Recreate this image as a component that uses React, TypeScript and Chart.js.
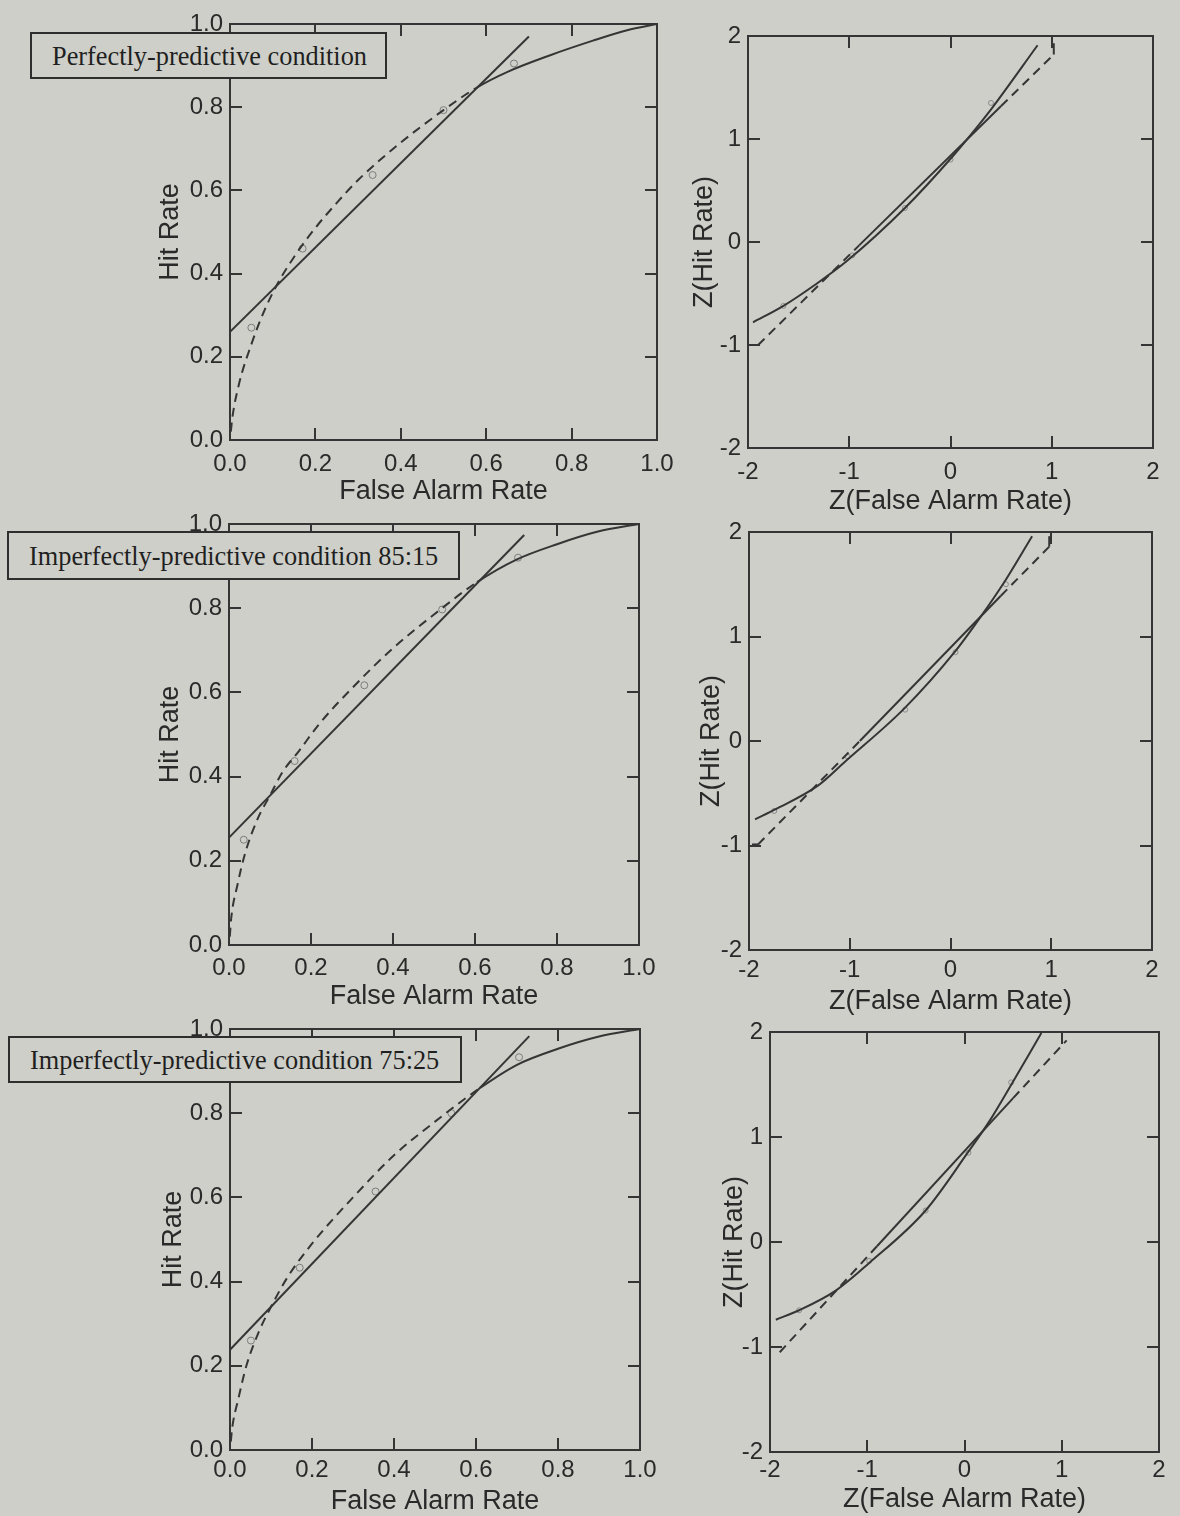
import React, { useEffect, useRef } from "react";
import { Chart, registerables } from "chart.js";

Chart.register(...registerables);

const BG = "rgb(206,207,201)";
const INK = "#353535";
const SANS = "'Liberation Sans', Arial, Helvetica, sans-serif";
const SERIF = "'Liberation Serif', 'Times New Roman', serif";

// ---------- Condition labels ----------
const conditionLabels = [
  "Perfectly-predictive condition",
  "Imperfectly-predictive condition 85:15",
  "Imperfectly-predictive condition 75:25",
];

// ---------- Axis text ----------
const rocXTitle = "False Alarm Rate";
const rocYTitle = "Hit Rate";
const zXTitle = "Z(False Alarm Rate)";
const zYTitle = "Z(Hit Rate)";

// ---------- ROC panel: perfectly-predictive ----------
const rocA_pointFA = [0.05, 0.17, 0.334, 0.5, 0.665];
const rocA_pointHit = [0.27, 0.46, 0.637, 0.793, 0.905];
const rocA_lineFA = [0, 0.7];
const rocA_lineHit = [0.26, 0.97];
const rocA_curveFA = [0.002, 0.005, 0.02, 0.05, 0.08, 0.11, 0.15, 0.2, 0.25, 0.3, 0.4, 0.5, 0.576, 0.65, 0.75, 0.85, 0.93, 1.0];
const rocA_curveHit = [0.02, 0.05, 0.13, 0.23, 0.31, 0.373, 0.44, 0.51, 0.57, 0.625, 0.715, 0.793, 0.846, 0.885, 0.925, 0.96, 0.985, 1.0];
const rocA_dashEnd = 0.576;

// ---------- ROC panel: 85:15 ----------
const rocB_pointFA = [0.036, 0.16, 0.33, 0.52, 0.705];
const rocB_pointHit = [0.25, 0.437, 0.617, 0.797, 0.92];
const rocB_lineFA = [0, 0.72];
const rocB_lineHit = [0.255, 0.974];
const rocB_curveFA = [0.002, 0.005, 0.02, 0.04, 0.07, 0.1, 0.13, 0.17, 0.22, 0.3, 0.4, 0.5, 0.605, 0.7, 0.8, 0.9, 1.0];
const rocB_curveHit = [0.02, 0.06, 0.14, 0.22, 0.3, 0.355, 0.41, 0.46, 0.525, 0.61, 0.705, 0.785, 0.862, 0.915, 0.952, 0.982, 1.0];
const rocB_dashEnd = 0.605;

// ---------- ROC panel: 75:25 ----------
const rocC_pointFA = [0.051, 0.17, 0.355, 0.54, 0.705];
const rocC_pointHit = [0.26, 0.433, 0.614, 0.8, 0.933];
const rocC_lineFA = [0, 0.73];
const rocC_lineHit = [0.238, 0.983];
const rocC_curveFA = [0.002, 0.005, 0.02, 0.04, 0.07, 0.1, 0.14, 0.2, 0.3, 0.4, 0.5, 0.61, 0.7, 0.8, 0.9, 1.0];
const rocC_curveHit = [0.02, 0.05, 0.12, 0.2, 0.28, 0.34, 0.41, 0.49, 0.6, 0.7, 0.78, 0.86, 0.915, 0.953, 0.982, 1.0];
const rocC_dashEnd = 0.61;

// ---------- z-ROC panel: perfectly-predictive ----------
const zA_pointFA = [-1.65, -0.97, -0.45, 0.0, 0.4];
const zA_pointHit = [-0.62, -0.13, 0.33, 0.8, 1.35];
const zA_curveFA = [-1.95, -1.65, -1.33, -1.03, -0.45, 0.02, 0.29, 0.41, 0.86];
const zA_curveHit = [-0.78, -0.62, -0.41, -0.19, 0.33, 0.83, 1.15, 1.3, 1.91];
const zA_lineFA = [-1.97, -1.9, -0.9, 0.5, 1.02, 1.02];
const zA_lineHit = [-1.0, -1.0, -0.03, 1.32, 1.82, 1.93];

// ---------- z-ROC panel: 85:15 ----------
const zB_pointFA = [-1.75, -1.02, -0.45, 0.05, 0.55];
const zB_pointHit = [-0.67, -0.15, 0.3, 0.85, 1.5];
const zB_curveFA = [-1.94, -1.73, -1.32, -1.05, -0.46, 0.04, 0.3, 0.52, 0.81];
const zB_curveHit = [-0.75, -0.65, -0.43, -0.2, 0.31, 0.85, 1.19, 1.5, 1.96];
const zB_lineFA = [-1.97, -1.91, -0.9, 0.5, 0.98, 0.98];
const zB_lineHit = [-0.99, -0.99, 0.0, 1.39, 1.86, 1.96];

// ---------- z-ROC panel: 75:25 ----------
const zC_pointFA = [-1.7, -0.98, -0.4, 0.04, 0.48];
const zC_pointHit = [-0.65, -0.18, 0.3, 0.85, 1.52];
const zC_curveFA = [-1.94, -1.7, -1.32, -0.98, -0.4, 0.04, 0.27, 0.47, 0.79];
const zC_curveHit = [-0.74, -0.65, -0.46, -0.2, 0.3, 0.86, 1.17, 1.48, 1.99];
const zC_lineFA = [-1.9, -0.9, 0.5, 1.05];
const zC_lineHit = [-1.05, -0.04, 1.37, 1.92];

// straight z line: dashed below / above these limits
const zDashLow = -0.9;
const zDashHigh = 0.5;

const xy = (xs: number[], ys: number[]) => xs.map((x, i) => ({ x, y: ys[i] }));

const framePlugin = {
  id: "frame",
  afterDatasetsDraw(chart: any) {
    const { ctx, chartArea: a, scales } = chart;
    const xs = scales.x;
    const ys = scales.y;
    ctx.save();
    ctx.strokeStyle = INK;
    ctx.lineWidth = 2;
    ctx.strokeRect(a.left, a.top, a.right - a.left, a.bottom - a.top);
    const L = 12;
    ctx.beginPath();
    xs.ticks.forEach((t: any) => {
      if (t.value <= xs.min + 1e-6 || t.value >= xs.max - 1e-6) return;
      const px = Math.round(xs.getPixelForValue(t.value));
      ctx.moveTo(px, a.bottom);
      ctx.lineTo(px, a.bottom - L);
      ctx.moveTo(px, a.top);
      ctx.lineTo(px, a.top + L);
    });
    ys.ticks.forEach((t: any) => {
      if (t.value <= ys.min + 1e-6 || t.value >= ys.max - 1e-6) return;
      const py = Math.round(ys.getPixelForValue(t.value));
      ctx.moveTo(a.left, py);
      ctx.lineTo(a.left + L, py);
      ctx.moveTo(a.right, py);
      ctx.lineTo(a.right - L, py);
    });
    ctx.stroke();
    ctx.restore();
  },
};

type PanelProps = {
  kind: "roc" | "z";
  l: number;
  t: number;
  r: number;
  b: number;
  W: number;
  H: number;
  xPad: number;
  datasets: any[];
};

const T_PAD = 20;
const R_PAD = 34;

function Panel({ kind, l, t, r, b, W, H, xPad, datasets }: PanelProps) {
  const ref = useRef<HTMLCanvasElement | null>(null);
  const width = W + (r - l) + R_PAD;
  const height = T_PAD + (b - t) + H;

  useEffect(() => {
    if (!ref.current) return;
    const isRoc = kind === "roc";
    const tickFont = { family: SANS, size: 24 };
    const titleFont = { family: SANS, size: 27 };
    const chart = new Chart(ref.current, {
      type: "scatter",
      data: { datasets },
      options: {
        animation: false,
        responsive: false,
        devicePixelRatio: 1,
        layout: { padding: { top: T_PAD, right: R_PAD, left: 0, bottom: 0 }, autoPadding: false },
        plugins: { legend: { display: false }, tooltip: { enabled: false } },
        scales: {
          x: {
            type: "linear",
            min: isRoc ? 0 : -2,
            max: isRoc ? 1 : 2,
            grid: { display: false, drawTicks: false },
            border: { display: false },
            ticks: {
              stepSize: isRoc ? 0.2 : 1,
              autoSkip: false,
              maxRotation: 0,
              padding: xPad,
              color: "#2a2a2a",
              font: tickFont,
              callback: (v: any) => (isRoc ? Number(v).toFixed(1) : String(Math.round(Number(v)))),
            },
            title: {
              display: true,
              text: isRoc ? rocXTitle : zXTitle,
              color: "#2a2a2a",
              font: titleFont,
              padding: 0,
            },
            afterFit: (s: any) => {
              s.height = H;
              s.paddingLeft = 0;
              s.paddingRight = 0;
            },
          },
          y: {
            type: "linear",
            min: isRoc ? 0 : -2,
            max: isRoc ? 1 : 2,
            grid: { display: false, drawTicks: false },
            border: { display: false },
            ticks: {
              stepSize: isRoc ? 0.2 : 1,
              autoSkip: false,
              padding: 7,
              color: "#2a2a2a",
              font: tickFont,
              callback: (v: any) => (isRoc ? Number(v).toFixed(1) : String(Math.round(Number(v)))),
            },
            title: {
              display: true,
              text: isRoc ? rocYTitle : zYTitle,
              color: "#2a2a2a",
              font: titleFont,
              padding: 0,
            },
            afterFit: (s: any) => {
              s.width = W;
              s.paddingTop = 0;
              s.paddingBottom = 0;
            },
          },
        },
      } as any,
      plugins: [framePlugin],
    });
    return () => chart.destroy();
  }, []);

  return (
    <canvas
      ref={ref}
      width={width}
      height={height}
      style={{ position: "absolute", left: l - W, top: t - T_PAD, width, height }}
    />
  );
}

function rocDatasets(pFA: number[], pHit: number[], lFA: number[], lHit: number[], cFA: number[], cHit: number[], dashEnd: number) {
  return [
    {
      label: "linear fit",
      data: xy(lFA, lHit),
      showLine: true,
      borderColor: INK,
      borderWidth: 2,
      pointRadius: 0,
      tension: 0,
    },
    {
      label: "curve fit",
      data: xy(cFA, cHit),
      showLine: true,
      borderColor: INK,
      borderWidth: 2,
      pointRadius: 0,
      tension: 0.4,
      cubicInterpolationMode: "monotone",
      segment: { borderDash: (c: any) => (c.p0.parsed.x < dashEnd - 1e-6 ? [9, 6] : undefined) },
    },
    {
      label: "data",
      data: xy(pFA, pHit),
      showLine: false,
      pointRadius: 3.5,
      pointBorderWidth: 1,
      pointBorderColor: "#7c7c7c",
      pointBackgroundColor: "rgba(0,0,0,0)",
    },
  ];
}

function zDatasets(pFA: number[], pHit: number[], cFA: number[], cHit: number[], lFA: number[], lHit: number[]) {
  return [
    {
      label: "curve",
      data: xy(cFA, cHit),
      showLine: true,
      borderColor: INK,
      borderWidth: 2,
      pointRadius: 0,
      tension: 0.4,
      cubicInterpolationMode: "monotone",
    },
    {
      label: "line",
      data: xy(lFA, lHit),
      showLine: true,
      borderColor: INK,
      borderWidth: 2,
      pointRadius: 0,
      tension: 0,
      segment: {
        borderDash: (c: any) => {
          const a = c.p0.parsed;
          const b = c.p1.parsed;
          if (a.x === b.x || a.y === b.y) return undefined;
          return a.x < zDashLow - 1e-6 || a.x >= zDashHigh - 1e-6 ? [9, 6] : undefined;
        },
      },
    },
    {
      label: "data",
      data: xy(pFA, pHit),
      showLine: false,
      pointRadius: 2.5,
      pointBorderWidth: 1,
      pointBorderColor: "#8a8a8a",
      pointBackgroundColor: "rgba(0,0,0,0)",
    },
  ];
}

function LabelBox({ text, left, top, width, height }: { text: string; left: number; top: number; width: number; height: number }) {
  return (
    <div
      style={{
        position: "absolute",
        left,
        top,
        width,
        height,
        boxSizing: "border-box",
        border: "2px solid #2e2e2e",
        background: BG,
        display: "flex",
        alignItems: "center",
        paddingLeft: 20,
        zIndex: 5,
        overflow: "hidden",
      }}
    >
      <span
        style={{
          fontFamily: SERIF,
          fontSize: 28,
          color: "#1f1f1f",
          whiteSpace: "nowrap",
          display: "inline-block",
          transform: "scaleX(0.94)",
          transformOrigin: "left center",
        }}
      >
        {text}
      </span>
    </div>
  );
}

export default function App() {
  useEffect(() => {
    document.body.style.margin = "0";
    document.body.style.background = BG;
  }, []);

  return (
    <div
      style={{
        position: "absolute",
        left: 0,
        top: 0,
        width: 1180,
        height: 1516,
        overflow: "hidden",
        background: BG,
      }}
    >
      <Panel kind="roc" l={230} t={24} r={657} b={440} W={76} H={68} xPad={10}
        datasets={rocDatasets(rocA_pointFA, rocA_pointHit, rocA_lineFA, rocA_lineHit, rocA_curveFA, rocA_curveHit, rocA_dashEnd)} />
      <Panel kind="z" l={748} t={36} r={1153} b={448} W={60} H={70} xPad={10}
        datasets={zDatasets(zA_pointFA, zA_pointHit, zA_curveFA, zA_curveHit, zA_lineFA, zA_lineHit)} />

      <Panel kind="roc" l={229} t={524} r={639} b={945} W={75} H={68} xPad={9}
        datasets={rocDatasets(rocB_pointFA, rocB_pointHit, rocB_lineFA, rocB_lineHit, rocB_curveFA, rocB_curveHit, rocB_dashEnd)} />
      <Panel kind="z" l={749} t={532} r={1152} b={950} W={54} H={68} xPad={6}
        datasets={zDatasets(zB_pointFA, zB_pointHit, zB_curveFA, zB_curveHit, zB_lineFA, zB_lineHit)} />

      <Panel kind="roc" l={230} t={1029} r={640} b={1450} W={73} H={68} xPad={6}
        datasets={rocDatasets(rocC_pointFA, rocC_pointHit, rocC_lineFA, rocC_lineHit, rocC_curveFA, rocC_curveHit, rocC_dashEnd)} />
      <Panel kind="z" l={770} t={1032} r={1159} b={1452} W={52} H={64} xPad={4}
        datasets={zDatasets(zC_pointFA, zC_pointHit, zC_curveFA, zC_curveHit, zC_lineFA, zC_lineHit)} />

      <LabelBox text={conditionLabels[0]} left={30} top={32} width={357} height={47} />
      <LabelBox text={conditionLabels[1]} left={7} top={531} width={453} height={49} />
      <LabelBox text={conditionLabels[2]} left={8} top={1036} width={454} height={47} />
    </div>
  );
}
